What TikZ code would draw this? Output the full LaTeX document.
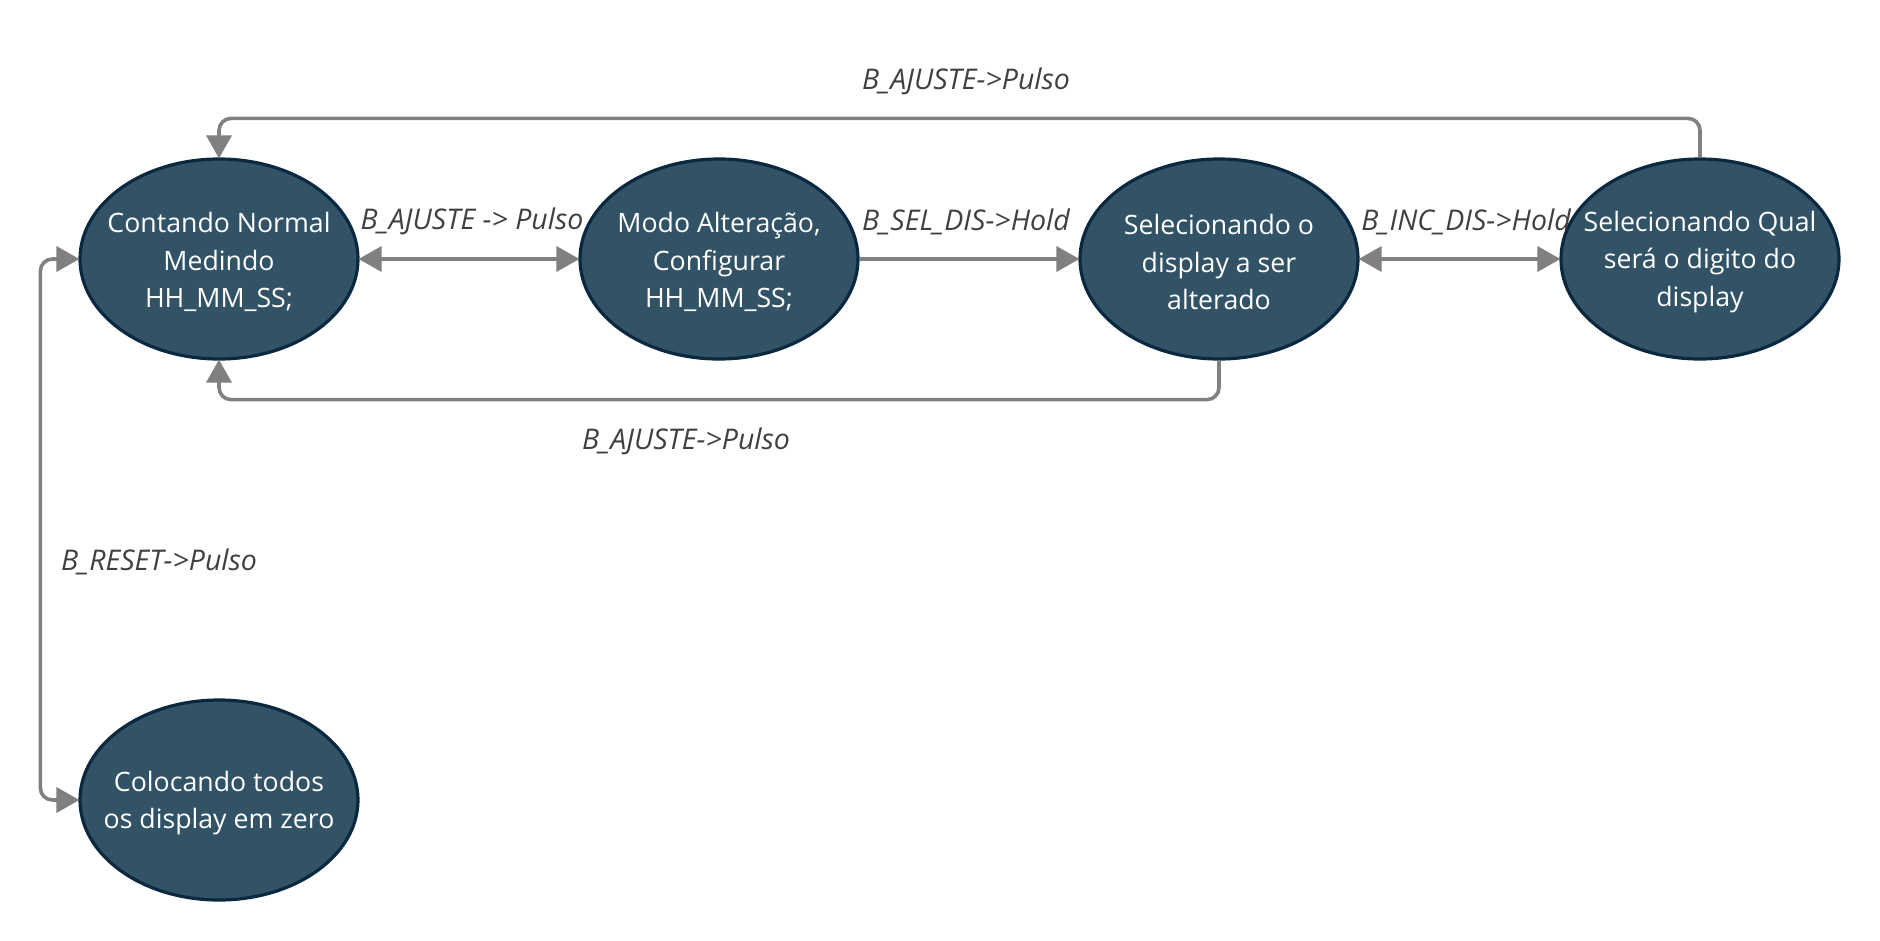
\documentclass[tikz,border=0pt]{standalone}
\usepackage{fontspec}
\setmainfont{Open Sans}
\usetikzlibrary{shapes.geometric,arrows.meta}
\definecolor{statefill}{RGB}{50,83,102}
\definecolor{stateline}{RGB}{10,40,64}
\definecolor{conngray}{RGB}{128,128,128}
\definecolor{labelgray}{RGB}{64,64,64}
\tikzset{
  state/.style={ellipse, draw=stateline, fill=statefill, line width=3.2pt,
    minimum width=278pt, minimum height=200pt, inner sep=0pt},
  statetext/.style={text=white, align=center, inner sep=0pt, yshift=-3pt,
    font=\fontsize{26.7}{37.5}\selectfont},
  conn/.style={draw=conngray, line width=3.6pt,
    arrows={-Triangle[length=23pt,width=25pt]}, shorten >=-1pt},
  conn2/.style={draw=conngray, line width=3.6pt,
    arrows={Triangle[length=23pt,width=25pt]-Triangle[length=23pt,width=25pt]}, shorten >=-1pt, shorten <=-1pt},
  lbl/.style={text=labelgray, font=\fontsize{28.5}{32}\selectfont\itshape, inner sep=0pt, yshift=-2.5pt}
}
\begin{document}
\begin{tikzpicture}[x=1pt,y=-1pt]
\useasboundingbox (0,0) rectangle (1880,940);
\node[state] (e1) at (219,259) {};
\node[state] (e2) at (719,259) {};
\node[state] (e3) at (1219,259) {};
\node[state] (e4) at (1700,259) {};
\node[state] (e5) at (219,800) {};
\node[statetext] (t1) at (e1) {Contando Normal\\Medindo\\HH\_MM\_SS;};
\node[statetext] (t2) at (e2) {Modo Alteração,\\Configurar\\HH\_MM\_SS;};
\node[statetext] (t3) at (e3) {Selecionando o\\display a ser\\alterado};
\node[statetext] (t4) at (e4) {Selecionando Qual\\será o digito do\\display};
\node[statetext] (t5) at (e5) {Colocando todos\\os display em zero};

\draw[conn2] (e1.east) -- (e2.west);
\draw[conn] (e2.east) -- (e3.west);
\draw[conn2] (e3.east) -- (e4.west);
\draw[conn, rounded corners=12pt] (e4.north) -- ++(0,-39) -| (e1.north);
\draw[conn, rounded corners=12pt] (e3.south) -- ++(0,39) -| (e1.south);
\draw[conn2, rounded corners=12pt] (e5.west) -- ++(-38,0) |- (e1.west);

\node[lbl] (l1) at (966,79) {B\_AJUSTE->Pulso};
\node[lbl] (l2) at (472,219) {B\_AJUSTE -> Pulso};
\node[lbl] (l3) at (966,219) {B\_SEL\_DIS->Hold};
\node[lbl] (l4) at (1466,219) {B\_INC\_DIS->Hold};
\node[lbl] (l5) at (686,439) {B\_AJUSTE->Pulso};
\node[lbl] (l6) at (159,559) {B\_RESET->Pulso};
\end{tikzpicture}
\end{document}
